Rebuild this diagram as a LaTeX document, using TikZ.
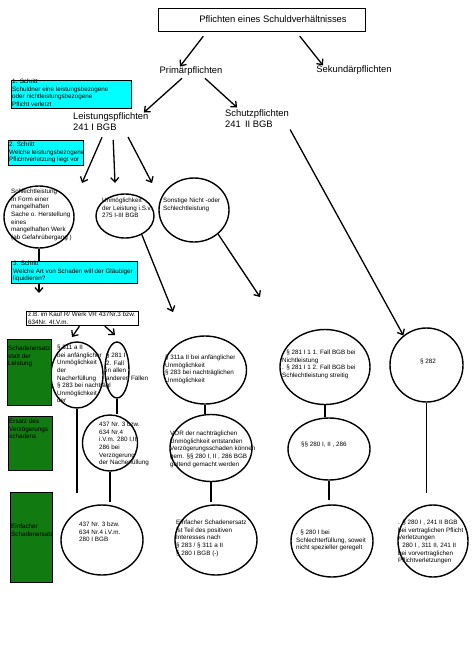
\documentclass[tikz,border=0pt]{standalone}
\usepackage{fontspec}
\setmainfont{Liberation Sans}
\usetikzlibrary{arrows.meta,shapes.geometric}
\definecolor{StepCyan}{HTML}{00FFFF}
\definecolor{DamageGreen}{HTML}{117A11}
\newcommand{\smallfnt}{\fontsize{6.3}{7.6}\selectfont}
\newcommand{\largefnt}{\fontsize{9.4}{11}\selectfont}

\begin{document}
\begin{tikzpicture}[x=1pt, y=-1pt,
    box/.style={draw, line width=0.9pt, inner sep=0pt},
    stepbox/.style={draw, fill=StepCyan, line width=1pt, inner sep=0pt},
    dmgbox/.style={draw, fill=DamageGreen, line width=1pt, inner sep=0pt},
    circ/.style={draw, ellipse, line width=1.4pt, inner sep=0pt},
    txt/.style={font=\smallfnt, align=left, inner sep=0pt, anchor=north west},
    lbl/.style={font=\largefnt, align=left, inner sep=0pt},
    arrow/.style={-{Straight Barb[length=4.5pt,width=8pt]}, line width=1.3pt},
    link/.style={line width=1.3pt}
  ]
    \fill[white] (0,0) rectangle (474,670);
    \useasboundingbox (0,0) rectangle (474,670);

    % top of the tree
    \node[box, minimum width=207pt, minimum height=23pt] (title) at (261.5,19.5) {};
    \node[lbl] (titletxt) at (273,19.5) {Pflichten eines Schuldverhältnisses};
    \node[lbl] (prim) at (191,71) {Primärpflichten};
    \node[lbl] (sek) at (354,70) {Sekundärpflichten};
    \node[lbl, anchor=north west] (leist) at (73,112.5) {Leistungspflichten\\241 I BGB};
    \node[lbl, anchor=north west] (schutz) at (225,109.5) {Schutzpflichten\\241\, II BGB};

    % free ends
    \coordinate (lpa) at (82,183);
    \coordinate (lpb) at (115,183);
    \coordinate (lpc) at (152,183);
    \coordinate (zbtop) at (39,293);
    \coordinate (bend) at (173,312);
    \coordinate (cend) at (260,297);
    \coordinate (zbd) at (72,337);
    \coordinate (zbe) at (115,335);
    \coordinate (dend) at (77,493);
    \coordinate (fend) at (110,502);
    \coordinate (iend) at (211,502);
    \coordinate (lend) at (329,500);
    \coordinate (nend) at (426.5,493);

    % ellipses
    \node[circ, minimum width=70pt, minimum height=62pt] (sla) at (39,217) {};
    \node[circ, minimum width=58pt, minimum height=44pt] (unm) at (125,216) {};
    \node[circ, minimum width=70pt, minimum height=64pt] (sonst) at (194,210) {};
    \node[circ, minimum width=52pt, minimum height=66pt] (nacha) at (77,375) {};
    \node[circ, minimum width=24pt, minimum height=56pt] (nachb) at (117,370) {};
    \node[circ, minimum width=55pt, minimum height=56pt] (nachv) at (110,443) {};
    \node[circ, minimum width=82pt, minimum height=70pt] (nache) at (102,540) {};
    \node[circ, minimum width=83pt, minimum height=68pt] (unma) at (205,370) {};
    \node[circ, minimum width=82pt, minimum height=67pt] (unmv) at (211,448) {};
    \node[circ, minimum width=82pt, minimum height=70pt] (unme) at (216,540) {};
    \node[circ, minimum width=90pt, minimum height=75pt] (sonsta) at (325,367) {};
    \node[circ, minimum width=82pt, minimum height=62pt] (sonstv) at (329,449) {};
    \node[circ, minimum width=82pt, minimum height=72pt] (sonste) at (332,541) {};
    \node[circ, minimum width=73pt, minimum height=74pt] (schutza) at (426.5,365) {};
    \node[circ, minimum width=70pt, minimum height=72pt] (schutze) at (433,541) {};

    % connectors
    \draw[arrow, shorten <=6pt] ([xshift=-54.5pt]title.south) -- ([xshift=-11pt]prim.north);
    \draw[arrow, shorten <=6pt] ([xshift=34.5pt]title.south) -- ([xshift=-31pt]sek.north);
    \draw[arrow, shorten <=4pt] ([xshift=-6pt]prim.south) -- ([xshift=33pt]leist.north);
    \draw[arrow, shorten <=4pt] ([xshift=11pt]prim.south) -- ([xshift=-20pt,yshift=2pt]schutz.north);
    \draw[arrow, shorten <=7pt] ([xshift=-6pt]leist.south) -- (lpa);
    \draw[arrow, shorten <=9pt] ([xshift=2pt]leist.south) -- (lpb);
    \draw[arrow, shorten <=7pt] ([xshift=14pt]leist.south) -- (lpc);
    \draw[arrow, shorten <=2pt] (schutz.south east) -- (schutza.128);
    \draw[arrow] (sla.south) -- (zbtop);
    \draw[arrow] (unm.-48) -- (bend);
    \draw[arrow] (sonst.-45) -- (cend);
    \draw[link] (nacha.south) -- (dend);
    \draw[link] (nachb.south) -- (nachb.south |- nachv.north);
    \draw[link] (nachv.south) -- (fend);
    \draw[link] (unma.south) -- (unma.south |- unmv.north);
    \draw[link] (unmv.south) -- (iend);
    \draw[link] (sonsta.south) -- (sonsta.south |- sonstv.north);
    \draw[link] (sonstv.south) -- (lend);
    \draw[link] (schutza.south) -- (nend);

    % steps and damage types
    \node[stepbox, minimum width=120pt, minimum height=28pt] (step1) at (71,94) {};
    \node[txt] (step1txt) at (12,79) {1. Schritt\\Schuldner eine leistungsbezogene\\oder nichtleistungsbezogene\\Pflicht verletzt};
    \node[stepbox, minimum width=75pt, minimum height=25pt] (step2) at (45.5,152.5) {};
    \node[txt] (step2txt) at (9,142) {2. Schritt\\Welche leistungsbezogene\\Pflichtverletzung liegt vor};
    \node[stepbox, minimum width=126pt, minimum height=22pt] (step3) at (74,272) {};
    \node[txt] (step3txt) at (13,261) {3. Schritt\\Welche Art von Schaden will der Gläubiger\\liquidieren?};
    \node[box, fill=white, minimum width=112pt, minimum height=14pt] (zb) at (82,318) {};
    \node[txt] (zbtxt) at (28,312) {z.B. im Kauf R/ Werk VR 437Nr.3 bzw.\\634Nr. 4I.V.m.};
    \draw[arrow, shorten <=1pt] ([xshift=-2pt]zb.south) -- (zbd);
    \draw[arrow, shorten <=1pt] ([xshift=22pt]zb.south) -- (zbe);

    \node[dmgbox, minimum width=44pt, minimum height=66pt] (dmga) at (29,372) {};
    \node[txt] (dmgatxt) at (8,346) {Schadenersatz\\statt der\\Leistung};
    \node[dmgbox, minimum width=44pt, minimum height=54pt] (dmgv) at (30,443) {};
    \node[txt] (dmgvtxt) at (9,419) {Ersatz des\\Verzögerungs\\schadens};
    \node[dmgbox, minimum width=42pt, minimum height=90pt] (dmge) at (31,537) {};
    \node[txt] (dmgetxt) at (11,524) {Einfacher\\Schadenersatz};

    % texts of the ellipses
    \node[txt] (slatxt) at (11,189) {Schlechtleistung\\In Form einer\\mangelhaften\\Sache o. Herstellung\\eines\\mangelhaften Werk\\(ab Gefahrübergang )};
    \node[txt] (unmtxt) at (102,198) {Unmöglichkeit\\der Leistung i.S.v.\\275 I-III BGB};
    \node[txt] (sonsttxt) at (163,198) {Sonstige Nicht -oder\\Schlechtleistung};
    \node[txt] (nachatxt) at (57,345) {§ 311 a II\\bei anfänglicher\\Unmöglichkeit\\der\\Nacherfüllung\\§ 283 bei nachträgl\\Unmöglichkeit\\der};
    \node[txt] (nachbtxt) at (106,353) {§ 281 I\\2. Fall\\in allen\\anderen Fällen};
    \node[txt] (nachvtxt) at (99,422) {437 Nr. 3 bzw.\\634 Nr.4\\i.V.m. 280 I,II,\\286 bei\\Verzögerung\\der Nacherfüllung};
    \node[txt] (nachetxt) at (79,522) {437 Nr. 3 bzw.\\634 Nr.4 i.V.m.\\280 I BGB};
    \node[txt] (unmatxt) at (165,355) {§ 311a II bei anfänglicher\\Unmöglichkeit\\§ 283 bei nachträglichen\\Unmöglichkeit};
    \node[txt] (unmvtxt) at (170,431) {VOR der nachträglichen\\Unmöglichkeit entstanden\\Verzögerungsschaden können\\gem. §§ 280 I, II , 286 BGB\\geltend gemacht werden};
    \node[txt] (unmetxt) at (176,520) {Einfacher Schadenersatz\\ist Teil des positiven\\Interesses nach\\§ 283 / § 311 a II\\§ 280 I BGB (-)};
    \node[txt] (sonstatxt) at (282,350) {. § 281 I 1 1. Fall BGB bei\\Nichtleistung\\. § 281 I 1 2. Fall BGB bei\\Schlechtleistung streitig};
    \node[txt] (sonstvtxt) at (301,442) {§§ 280 I, II , 286};
    \node[txt] (sonstetxt) at (296,530) {. § 280 I bei\\Schlechterfüllung, soweit\\nicht spezieller geregelt};
    \node[font=\smallfnt, inner sep=0pt] (schutzatxt) at (428,361) {§ 282};
    \node[txt] (schutzetxt) at (398,520) {. § 280 I , 241 II BGB\\bei vertraglichen Pflicht\\Verletzungen\\. 280 I , 311 II, 241 II\\bei vorvertraglichen\\Pflichtverletzungen};
  \end{tikzpicture}
\end{document}
